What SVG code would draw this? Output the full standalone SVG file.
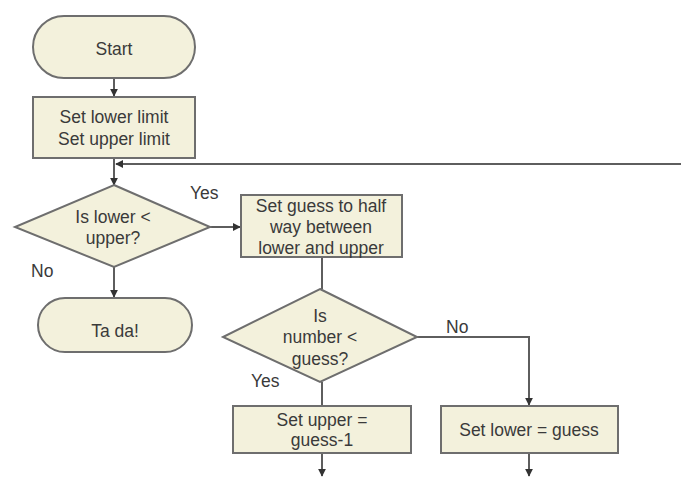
<svg xmlns="http://www.w3.org/2000/svg" width="681" height="477" viewBox="0 0 681 477">
  <style>
    .node { fill: #f3f1dc; stroke: #6e6e6e; stroke-width: 2; }
    .lbl { font-family: "Liberation Sans", Arial, sans-serif; font-size: 17.5px; fill: #3a3a3a; text-anchor: middle; }
    .side { font-family: "Liberation Sans", Arial, sans-serif; font-size: 17.5px; fill: #3a3a3a; }
    .edge { fill: none; stroke: #5e5e5e; stroke-width: 2; }
  </style>
  <defs>
    <marker id="arrow" viewBox="0 0 10 10" refX="9" refY="5" markerWidth="8" markerHeight="8" orient="auto" markerUnits="userSpaceOnUse">
      <path d="M0,0 L10,5 L0,10 z" fill="#333"/>
    </marker>
  </defs>
  <rect width="681" height="477" fill="#ffffff"/>

  <g id="connectors">
    <line class="edge" x1="114" y1="78" x2="114" y2="96" marker-end="url(#arrow)"/>
    <line class="edge" x1="114" y1="158" x2="114" y2="185" marker-end="url(#arrow)"/>
    <line class="edge" x1="681" y1="164" x2="116" y2="164" marker-end="url(#arrow)"/>
    <line class="edge" x1="210" y1="227" x2="240" y2="227" marker-end="url(#arrow)"/>
    <line class="edge" x1="114" y1="267" x2="114" y2="297" marker-end="url(#arrow)"/>
    <line class="edge" x1="322" y1="257" x2="322" y2="289"/>
    <line class="edge" x1="322" y1="382" x2="322" y2="406"/>
    <polyline class="edge" points="417,337 529,337 529,405" marker-end="url(#arrow)"/>
    <line class="edge" x1="322" y1="453" x2="322" y2="476" marker-end="url(#arrow)"/>
    <line class="edge" x1="529" y1="453" x2="529" y2="476" marker-end="url(#arrow)"/>
    <text class="side" x="190" y="199">Yes</text>
    <text class="side" x="31" y="277">No</text>
    <text class="side" x="251" y="387">Yes</text>
    <text class="side" x="446" y="333">No</text>
  </g>

  <g id="start">
    <rect class="node" x="33" y="16" width="162" height="62" rx="31" ry="31"/>
    <text class="lbl" x="114" y="55">Start</text>
  </g>

  <g id="set-limits">
    <rect class="node" x="33" y="97" width="162" height="61"/>
    <text class="lbl" x="114" y="123">Set lower limit</text>
    <text class="lbl" x="114" y="145">Set upper limit</text>
  </g>

  <g id="lower-lt-upper">
    <polygon class="node" points="114,185 210,227 114,267 15,227"/>
    <text class="lbl" x="113" y="223">Is lower &lt;</text>
    <text class="lbl" x="113" y="244">upper?</text>
  </g>

  <g id="ta-da">
    <rect class="node" x="38" y="298" width="154" height="54" rx="27" ry="27"/>
    <text class="lbl" x="115" y="337">Ta da!</text>
  </g>

  <g id="set-guess">
    <rect class="node" x="241" y="195" width="161" height="62"/>
    <text class="lbl" x="321" y="212">Set guess to half</text>
    <text class="lbl" x="321" y="233">way between</text>
    <text class="lbl" x="321" y="254">lower and upper</text>
  </g>

  <g id="number-lt-guess">
    <polygon class="node" points="320,289 417,337 320,382 223,337"/>
    <text class="lbl" x="320" y="322">Is</text>
    <text class="lbl" x="320" y="343">number &lt;</text>
    <text class="lbl" x="320" y="365">guess?</text>
  </g>

  <g id="set-upper">
    <rect class="node" x="233" y="406" width="178" height="47"/>
    <text class="lbl" x="322" y="426">Set upper =</text>
    <text class="lbl" x="322" y="446">guess-1</text>
  </g>

  <g id="set-lower">
    <rect class="node" x="441" y="406" width="177" height="47"/>
    <text class="lbl" x="529" y="436">Set lower = guess</text>
  </g>
</svg>
